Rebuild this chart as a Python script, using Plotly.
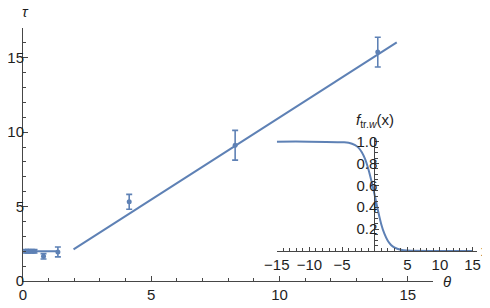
import plotly.graph_objects as go

# ---- data ----
theta = [0.1, 0.2, 0.32, 0.45, 0.80, 1.36, 4.14, 8.27, 13.83]
tau = [2.0, 2.0, 2.0, 2.0, 1.66, 1.95, 5.32, 9.12, 15.38]
tau_err = [0.12, 0.12, 0.12, 0.12, 0.18, 0.33, 0.5, 1.0, 1.0]

flat_theta = [0.05, 1.38]
flat_tau = [2.0, 2.0]
lin_theta = [1.97, 14.57]
lin_tau = [2.13, 16.03]

inset_x = [-15, -10, -5, -4, -3, -2.5, -2, -1.5, -1, -0.5, 0, 0.5, 1, 1.5, 2, 2.5, 3, 4, 5, 10, 15]
inset_f = [1.0, 1.0, 0.995, 0.99, 0.968, 0.945, 0.905, 0.845, 0.755, 0.64, 0.51, 0.37, 0.245, 0.155, 0.093, 0.055, 0.032, 0.01, 0.003, 0.0, 0.0]

main_xticks = [0, 5, 10, 15]
main_yticks = [0, 5, 10, 15]

BLUE = "rgb(94,129,181)"
AX = "rgb(70,70,70)"
TXT = "rgb(30,30,30)"
FONT = "Liberation Sans, Arial, sans-serif"

fig = go.Figure()

fig.add_trace(go.Scatter(x=flat_theta, y=flat_tau, mode="lines",
                         line=dict(color=BLUE, width=2), xaxis="x", yaxis="y",
                         showlegend=False, hoverinfo="skip"))
fig.add_trace(go.Scatter(x=lin_theta, y=lin_tau, mode="lines",
                         line=dict(color=BLUE, width=2), xaxis="x", yaxis="y",
                         showlegend=False, hoverinfo="skip"))
fig.add_trace(go.Scatter(x=theta, y=tau, mode="markers",
                         marker=dict(color=BLUE, size=5),
                         error_y=dict(type="data", array=tau_err, color=BLUE,
                                      thickness=1.6, width=3),
                         xaxis="x", yaxis="y", showlegend=False))
fig.add_trace(go.Scatter(x=inset_x, y=inset_f, mode="lines", line_shape="spline",
                         line=dict(color=BLUE, width=2), xaxis="x2", yaxis="y2",
                         showlegend=False))

# The page body has an 8px default margin, so the figure is drawn 8px in.
OFF = 8
FIG_W, FIG_H = 490 - OFF, 308 - OFF
# plot area in reference px: left 22.7, right 480, top 28.3, bottom 280.7
L, R, T, B = 22.7 - OFF, 480.0 - OFF, 28.3 - OFF, 280.7 - OFF
W = R - L
H = B - T

def fx(px):
    return (px - OFF - L) / W

def fy(py):
    return (B - (py - OFF)) / H

common_tick = dict(ticks="inside", tickcolor=AX, linecolor=AX, linewidth=1,
                   showline=True, showgrid=False, zeroline=False, automargin=False,
                   tickfont=dict(family=FONT, size=15, color=TXT))

def label(text, px, py):
    return dict(text=text, x=fx(px), y=fy(py), xref="paper", yref="paper",
                xanchor="center", yanchor="middle", showarrow=False,
                font=dict(size=15, family=FONT, color=TXT))

fig.update_layout(
    width=FIG_W, height=FIG_H,
    margin=dict(l=L, r=FIG_W - R, t=T, b=FIG_H - B, pad=0, autoexpand=False),
    paper_bgcolor="white", plot_bgcolor="rgba(0,0,0,0)",
    xaxis=dict(domain=[0, fx(433.4)], range=[0, 16], tickvals=main_xticks,
               ticklen=5, tickwidth=1,
               minor=dict(dtick=1, tick0=0, ticklen=3, tickcolor=AX, ticks="inside"),
               anchor="y", **common_tick),
    yaxis=dict(domain=[0, 1], range=[0, 17], tickvals=main_yticks,
               ticklen=5, tickwidth=1, ticklabelstandoff=-5,
               minor=dict(dtick=1, tick0=0, ticklen=3, tickcolor=AX, ticks="inside"),
               anchor="x", **common_tick),
    xaxis2=dict(domain=[fx(276.7), fx(476.5)], range=[-15, 15.6], dtick=5, tick0=0,
                labelalias={"0": " "}, ticklen=4, tickwidth=1,
                minor=dict(dtick=1, tick0=0, ticklen=2.5, tickcolor=AX, ticks="inside"),
                anchor="y2", **common_tick),
    yaxis2=dict(domain=[fy(250.7), fy(138.4)], range=[0, 1.03],
                tickvals=[0.2, 0.4, 0.6, 0.8, 1.0], ticktext=["0.2", "0.4", "0.6", "0.8", "1.0"],
                ticklen=4, tickwidth=1, ticklabelstandoff=-6,
                minor=dict(dtick=0.05, tick0=0, ticklen=2.5, tickcolor=AX, ticks="inside"),
                anchor="free", position=fx(374.3), side="left", **common_tick),
    font=dict(family=FONT, size=15, color=TXT),
    annotations=[
        label("<i>τ</i>", 25, 12),
        label("<i>θ</i>", 447, 281),
        label("<i>f</i><sub>tr.<i>w</i></sub>(x)", 374.5, 121),
        label("x", 485, 250),
    ],
)

fig.write_html("out.html", config={"displayModeBar": False})
